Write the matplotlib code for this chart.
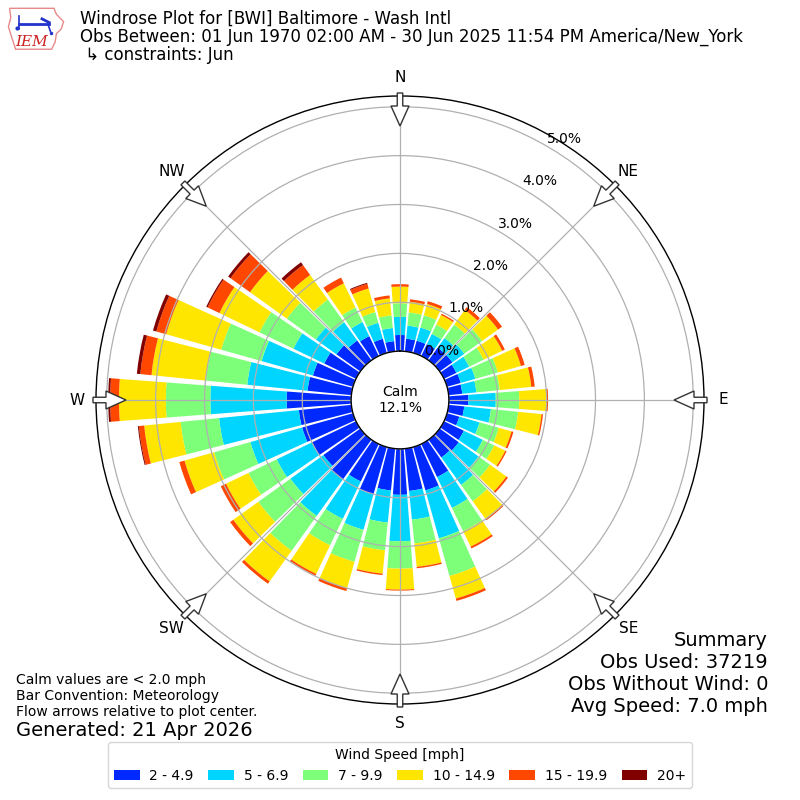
import numpy as np
import matplotlib
matplotlib.use("Agg")
import matplotlib.pyplot as plt
from matplotlib.patches import Patch, FancyArrow, Polygon

plt.rcParams['font.family'] = ['DejaVu Sans']

# ---------------- data (percent of observations) ----------------
directions = np.arange(0, 360, 10)  # degrees, meteorological (from)
speed_labels = ["2 - 4.9", "5 - 6.9", "7 - 9.9", "10 - 14.9", "15 - 19.9", "20+"]

bin_2_5 = [0.33, 0.26, 0.26, 0.27, 0.32, 0.32, 0.28, 0.29, 0.28, 0.40,
           0.32, 0.26, 0.45, 0.48, 0.45, 0.75, 0.92, 0.87, 0.94, 0.86,
           1.01, 0.85, 1.00, 0.93, 1.00, 1.08, 1.08, 1.32, 0.90, 0.85,
           0.72, 0.60, 0.50, 0.45, 0.30, 0.21]
bin_5_7 = [0.37, 0.27, 0.28, 0.23, 0.24, 0.30, 0.29, 0.31, 0.29, 0.56,
           0.55, 0.43, 0.43, 0.50, 0.69, 0.70, 1.02, 0.59, 0.95, 0.66,
           0.75, 0.85, 0.92, 0.83, 0.80, 1.10, 1.64, 1.56, 1.24, 1.09,
           0.70, 0.52, 0.46, 0.32, 0.34, 0.27]
bin_7_10 = [0.28, 0.27, 0.26, 0.21, 0.34, 0.45, 0.33, 0.48, 0.48, 0.48,
            0.56, 0.41, 0.26, 0.29, 0.41, 0.53, 0.80, 0.49, 0.56, 0.57,
            0.68, 0.60, 0.88, 0.81, 0.64, 0.77, 0.79, 0.91, 0.85, 0.86,
            0.77, 0.73, 0.57, 0.33, 0.23, 0.26]
bin_10_15 = [0.34, 0.22, 0.24, 0.22, 0.37, 0.40, 0.42, 0.49, 0.65, 0.55,
             0.48, 0.27, 0.25, 0.41, 0.45, 0.35, 0.48, 0.48, 0.43, 0.48,
             0.56, 0.65, 0.77, 0.63, 0.51, 0.63, 0.75, 0.96, 1.12, 1.17,
             0.91, 0.93, 0.62, 0.55, 0.50, 0.35]
bin_15_20 = [0.05, 0.05, 0.06, 0.03, 0.07, 0.10, 0.06, 0.08, 0.07, 0.04,
             0.03, 0.04, 0.03, 0.04, 0.03, 0.04, 0.05, 0.03, 0.02, 0.03,
             0.06, 0.04, 0.06, 0.08, 0.12, 0.11, 0.11, 0.18, 0.23, 0.21,
             0.27, 0.49, 0.25, 0.13, 0.10, 0.06]
bin_20p = [0.00, 0.00, 0.00, 0.00, 0.00, 0.00, 0.00, 0.00, 0.00, 0.00,
           0.00, 0.00, 0.00, 0.00, 0.00, 0.00, 0.00, 0.00, 0.00, 0.00,
           0.00, 0.00, 0.00, 0.00, 0.00, 0.00, 0.02, 0.04, 0.07, 0.07,
           0.03, 0.06, 0.07, 0.00, 0.02, 0.00]
series = [bin_2_5, bin_5_7, bin_7_10, bin_10_15, bin_15_20, bin_20p]

calm_pct = 12.1
rings = [0, 1, 2, 3, 4, 5]
compass = ["N", "NE", "E", "SE", "S", "SW", "W", "NW"]

colors = [plt.cm.jet(v) for v in np.arange(1, 7) / 6.0]

# ---------------- figure ----------------
fig = plt.figure(figsize=(8, 8), dpi=100)
R_PX = 304.0
ax = fig.add_axes([(400 - R_PX) / 800, (400 - R_PX) / 800, 2 * R_PX / 800, 2 * R_PX / 800],
                  projection="polar")
ax.set_theta_zero_location("N")
ax.set_theta_direction(-1)
ax.set_ylim(0, 5.22)
ax.set_rorigin(-1.0)

theta = np.deg2rad(directions)
width = np.deg2rad(10) * 0.86
bottom = np.zeros(len(directions))
for vals, col, lab in zip(series, colors, speed_labels):
    vals = np.asarray(vals)
    ax.bar(theta, vals, width=width, bottom=bottom, color=col, edgecolor="none",
           align="center", label=lab, zorder=1)
    bottom = bottom + vals

ax.set_thetagrids(np.arange(0, 360, 45), labels=[""] * 8)
ax.set_rgrids(rings, labels=[""] * len(rings))
ax.grid(True, color="#b0b0b0", linewidth=0.9)
for sp in ax.spines.values():
    sp.set_color("black")
    sp.set_linewidth(1.0)

for r in rings:
    ax.text(np.deg2rad(30), r, f"{r:.1f}%", ha="left", va="bottom", fontsize=10, zorder=4)

ax.text(0, -1.0, f"Calm\n{calm_pct:.1f}%", ha="center", va="center", fontsize=10,
        transform=ax.transData, zorder=4)

# compass labels and flow arrows
for i, lab in enumerate(compass):
    ang = np.deg2rad(i * 45)
    s, c = np.sin(ang), np.cos(ang)
    rl = 323 / (2 * R_PX)
    ax.text(0.5 + rl * s, 0.5 + rl * c, lab, transform=ax.transAxes, ha="center",
            va="center", fontsize=11, clip_on=False)
    rs = 307 / (2 * R_PX)
    re = 274 / (2 * R_PX)
    arr = FancyArrow(0.5 + rs * s, 0.5 + rs * c, -(rs - re) * s, -(rs - re) * c,
                     width=5.5 / (2 * R_PX), head_width=18 / (2 * R_PX),
                     head_length=20 / (2 * R_PX), length_includes_head=True,
                     transform=ax.transAxes, facecolor="white", edgecolor="#333333",
                     linewidth=1.0, clip_on=False, zorder=6)
    ax.add_patch(arr)

# legend
handles = [Patch(facecolor=c, edgecolor="none") for c in colors]
fig.legend(handles, speed_labels, loc="lower center", bbox_to_anchor=(0.5, 0.006),
           ncol=6, title="Wind Speed [mph]", fontsize=10, title_fontsize=10,
           frameon=True, handlelength=1.85, handletextpad=0.7, columnspacing=1.05)

# header text
def ftxt(x, y, s, **kw):
    fig.text(x / 800, 1 - y / 800, s, va="center", **kw)

ftxt(80, 19, "Windrose Plot for [BWI] Baltimore - Wash Intl", fontsize=12)
ftxt(80, 37, "Obs Between: 01 Jun 1970 02:00 AM - 30 Jun 2025 11:54 PM America/New_York", fontsize=12)
ftxt(80, 55, " \u21b3 constraints: Jun", fontsize=12)

ftxt(16, 680, "Calm values are < 2.0 mph", fontsize=10)
ftxt(16, 696, "Bar Convention: Meteorology", fontsize=10)
ftxt(16, 712, "Flow arrows relative to plot center.", fontsize=10)
ftxt(16, 730, "Generated: 21 Apr 2026", fontsize=14)

ftxt(768, 640, "Summary", fontsize=14, ha="right")
ftxt(768, 662, "Obs Used: 37219", fontsize=14, ha="right")
ftxt(768, 684, "Obs Without Wind: 0", fontsize=14, ha="right")
ftxt(768, 706, "Avg Speed: 7.0 mph", fontsize=14, ha="right")

# IEM logo (simplified)
lax = fig.add_axes([6 / 800, 1 - 52 / 800, 60 / 800, 46 / 800])
lax.set_xlim(0, 1)
lax.set_ylim(0, 1)
lax.axis("off")
iowa = [(0.06, 0.95), (0.80, 0.95), (0.84, 0.82), (0.96, 0.66), (0.92, 0.50),
        (0.84, 0.40), (0.82, 0.22), (0.76, 0.06), (0.16, 0.06), (0.10, 0.30),
        (0.04, 0.55), (0.08, 0.75)]
lax.add_patch(Polygon(iowa, closed=True, facecolor="white", edgecolor="#e88a8a", linewidth=1.0))
lax.plot([0.22, 0.72], [0.60, 0.60], color="#2233cc", lw=2)
lax.plot([0.22, 0.22], [0.50, 0.78], color="#2233cc", lw=1.2)
lax.plot([0.60, 0.72], [0.72, 0.64], color="#2233cc", lw=2)
lax.plot([0.70, 0.74], [0.60, 0.45], color="#2233cc", lw=1.2)
lax.plot([0.18], [0.52], "o", color="#2233cc", ms=2)
lax.plot([0.75], [0.42], "o", color="#2233cc", ms=1.5)
lax.text(0.42, 0.22, "IEM", color="#cc2222", fontsize=11, ha="center", va="center",
         family="DejaVu Serif", style="italic")

fig.savefig("out.png", dpi=100)
